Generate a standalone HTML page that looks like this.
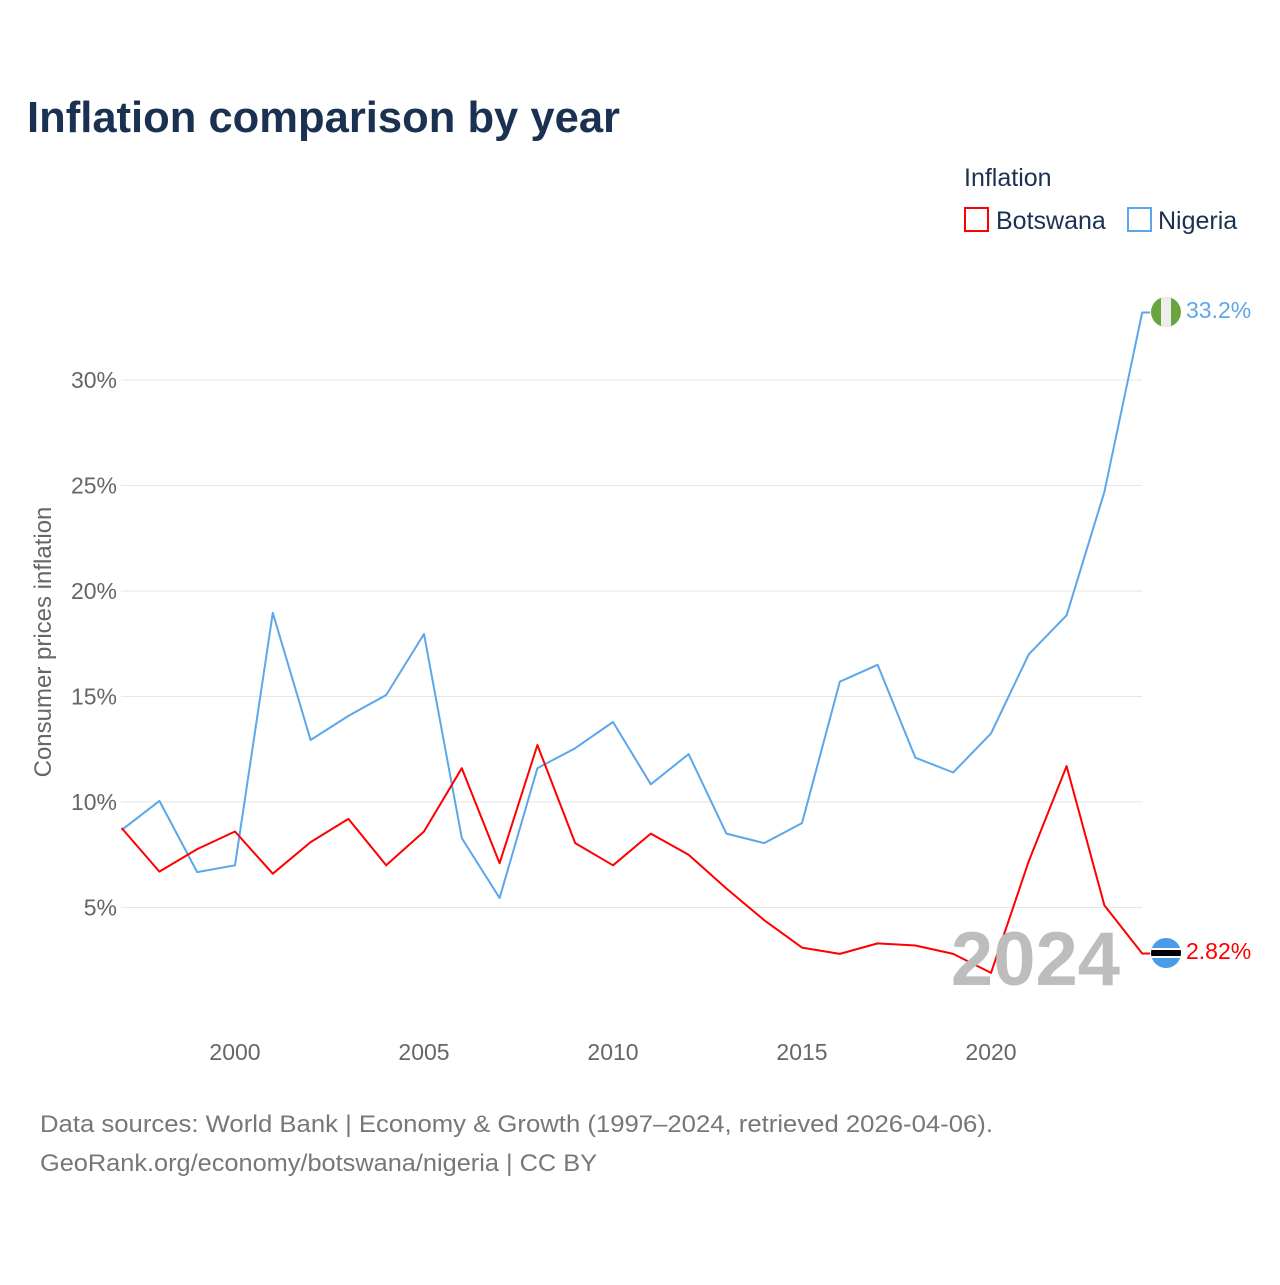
<!DOCTYPE html>
<html><head><meta charset="utf-8"><style>
body{margin:0;background:#fff;font-family:"Liberation Sans",sans-serif}
</style></head><body>
<svg id="c" width="1280" height="1280" xmlns="http://www.w3.org/2000/svg">
<rect width="1280" height="1280" fill="#fff"/>
<text x="27" y="132" font-size="44" font-weight="bold" fill="#1b3152" textLength="593" lengthAdjust="spacingAndGlyphs">Inflation comparison by year</text>
<text x="964" y="186" font-size="25" fill="#1b3152">Inflation</text>
<g><rect x="965" y="208" width="23" height="23" fill="none" stroke="#f00" stroke-width="2"/><text x="996" y="229" font-size="25" fill="#1b3152">Botswana</text></g>
<g><rect x="1128" y="208" width="23" height="23" fill="none" stroke="#5ba7ea" stroke-width="2"/><text x="1158" y="229" font-size="25" fill="#1b3152">Nigeria</text></g>
<text transform="translate(51,642) rotate(-90)" text-anchor="middle" font-size="24" fill="#666">Consumer prices inflation</text>
<g id="grid"></g><g id="lines"></g>
<text x="1120" y="985" text-anchor="end" font-size="76" font-weight="bold" fill="#bdbdbd">2024</text>
<g>
<clipPath id="cn"><circle cx="1166" cy="312" r="15"/></clipPath>
<g clip-path="url(#cn)"><rect x="1151" y="297" width="30" height="30" fill="#6aa43f"/><rect x="1161" y="297" width="10" height="30" fill="#eee"/></g></g>
<g>
<clipPath id="cb"><circle cx="1166" cy="953" r="15"/></clipPath>
<g clip-path="url(#cb)"><rect x="1151" y="938" width="30" height="30" fill="#4a9be8"/><rect x="1151" y="948" width="30" height="10" fill="#fff"/><rect x="1151" y="950" width="30" height="6" fill="#000"/></g></g>
<text x="1186" y="318" font-size="23" fill="#5ba7ea">33.2%</text>
<text x="1186" y="959" font-size="23" fill="#f00">2.82%</text>
<text x="40" y="1132" font-size="24" fill="#777" textLength="953" lengthAdjust="spacingAndGlyphs">Data sources: World Bank | Economy &amp; Growth (1997–2024, retrieved 2026-04-06).</text>
<text x="40" y="1171" font-size="24" fill="#777" textLength="557" lengthAdjust="spacingAndGlyphs">GeoRank.org/economy/botswana/nigeria | CC BY</text>
</svg>
<script>
const years=[1997,1998,1999,2000,2001,2002,2003,2004,2005,2006,2007,2008,2009,2010,2011,2012,2013,2014,2015,2016,2017,2018,2019,2020,2021,2022,2023,2024];
const nigeria=[8.67,10.05,6.68,7.0,18.96,12.94,14.08,15.07,17.96,8.29,5.45,11.6,12.55,13.79,10.84,12.27,8.5,8.05,9.0,15.7,16.5,12.1,11.4,13.25,17.0,18.85,24.7,33.2];
const botswana=[8.77,6.7,7.77,8.6,6.6,8.1,9.2,7.0,8.6,11.6,7.1,12.7,8.05,7.0,8.5,7.5,5.9,4.4,3.1,2.8,3.3,3.2,2.8,1.9,7.2,11.7,5.1,2.82];
const yTicks=[5,10,15,20,25,30];
const xTicks=[2000,2005,2010,2015,2020];
const NS="http://www.w3.org/2000/svg";
const x=v=>121.6+(v-1997)*37.8;
const y=v=>1013-v*21.1;
const grid=document.getElementById('grid'),lines=document.getElementById('lines');
function mk(t,a,p){const e=document.createElementNS(NS,t);for(const k in a)e.setAttribute(k,a[k]);p.appendChild(e);return e;}
yTicks.forEach(t=>{
 const l=mk('line',{x1:121,x2:1142,y1:y(t),y2:y(t),stroke:'#e6e6e6','stroke-width':1},grid);
 
 
 const tx=mk('text',{x:117,y:y(t)+8,'text-anchor':'end','font-size':23,fill:'#666'},grid);
 tx.textContent=t+'%';
 
 
});
xTicks.forEach(t=>{
 const tx=mk('text',{x:x(t),y:1060,'text-anchor':'middle','font-size':23,fill:'#666'},grid);
 tx.textContent=t;
 
 
});
function line(vals,color,name){
 let d=vals.map((v,i)=>(i?'L':'M')+x(years[i]).toFixed(1)+','+y(v).toFixed(1)).join('');
 d+='L'+(x(years[years.length-1])+8)+','+y(vals[vals.length-1]).toFixed(1);
 const p=mk('path',{d:d,fill:'none',stroke:color,'stroke-width':2,'stroke-linejoin':'round'},lines);
 
 
}
line(nigeria,'#5ba7ea','nigeria-line');
line(botswana,'#f00','botswana-line');
</script>
</body></html>
